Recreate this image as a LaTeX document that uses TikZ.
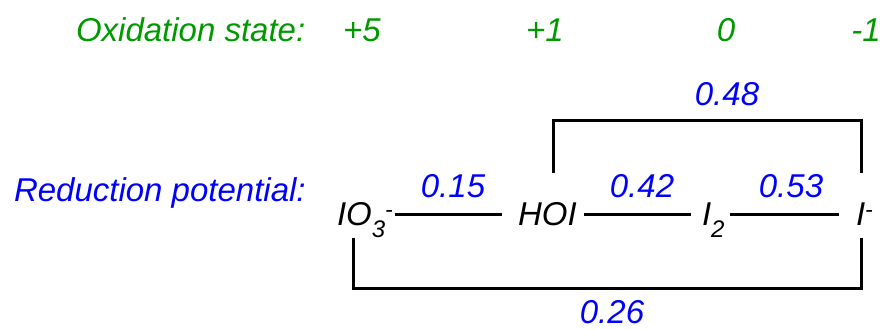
\documentclass[tikz,border=0pt]{standalone}
\usepackage{fontspec}
\setmainfont{Liberation Sans}
\usetikzlibrary{calc}
\definecolor{oxgreen}{RGB}{0,153,0}
\definecolor{potblue}{RGB}{0,0,255}
\newcommand{\subtxt}[1]{\raisebox{-12pt}{\fontsize{24}{24}\selectfont #1}}
\newcommand{\suptxt}[1]{\raisebox{8pt}{\fontsize{23}{23}\selectfont #1}}
\begin{document}
\begin{tikzpicture}[x=1pt,y=-1pt,
  every node/.style={inner sep=0pt,outer sep=0pt,font=\fontsize{33}{39}\selectfont\itshape},
  oxlbl/.style={text=oxgreen,anchor=base},
  potlbl/.style={text=potblue,anchor=base},
  species/.style={text=black,anchor=base west},
  link/.style={draw=black,line width=3pt},
  bracket/.style={draw=black,line width=3pt,line join=miter}]
\useasboundingbox (0,0) rectangle (886,329);
% oxidation states
\node[text=oxgreen,anchor=base west] (ox) at (76,42) {Oxidation state:};
\node[oxlbl] (o5) at (362,42) {+5};
\node[oxlbl] (o1) at (545,42) {+1};
\node[oxlbl] (o0) at (726,42) {0};
\node[oxlbl] (om) at (866,42) {-1};
% reduction potential
\node[text=potblue,anchor=base west] (red) at (14,201) {Reduction potential:};
% species
\node[species] (io3) at (337,225) {IO\subtxt{3}\suptxt{-}};
\node[species] (hoi) at (518,225) {HOI};
\node[species] (i2) at (702,225) {I\subtxt{2}};
\node[species] (im) at (856,225) {I\suptxt{-}};
% links
\draw[link] ($(io3.base east)+(2,-11)$) -- ($(hoi.base west)+(-16,-11)$);
\draw[link] ($(hoi.base east)+(7,-11)$) -- ($(i2.base west)+(-11,-11)$);
\draw[link] ($(i2.base east)+(5,-11)$) -- ($(im.base west)+(-17,-11)$);
% potentials
\node[potlbl] (p015) at (453,197) {0.15};
\node[potlbl] (p042) at (642,197) {0.42};
\node[potlbl] (p053) at (791,197) {0.53};
\node[potlbl] (p048) at (727,105) {0.48};
\node[potlbl] (p026) at (612,323) {0.26};
% brackets
\coordinate (t1) at ($(hoi.base west)+(35,-52)$);
\coordinate (t2) at ($(im.base west)+(5,-52)$);
\draw[bracket] (t1) -- ++(0,-53) -| (t2);
\coordinate (b1) at ($(io3.base west)+(16,13)$);
\coordinate (b2) at ($(im.base west)+(5,13)$);
\draw[bracket] (b1) -- ++(0,50) -| (b2);
\end{tikzpicture}
\end{document}
